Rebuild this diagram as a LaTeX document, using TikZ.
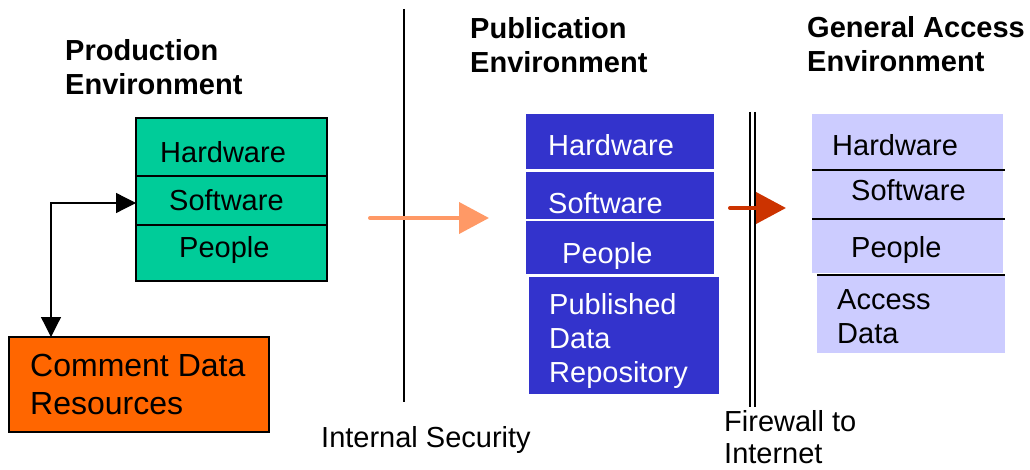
\documentclass[tikz,border=0pt]{standalone}
\usepackage{fontspec}
\setmainfont{Liberation Sans}
\usetikzlibrary{arrows.meta}
\definecolor{prodgreen}{HTML}{00CC99}
\definecolor{cdrorange}{HTML}{FF6600}
\definecolor{pubblue}{HTML}{3333CC}
\definecolor{genlav}{HTML}{CCCCFF}
\definecolor{lightarrow}{HTML}{FF9966}
\definecolor{redarrow}{HTML}{CC3300}
\begin{document}
\begin{tikzpicture}[x=1pt,y=-1pt,
  box/.style={anchor=north west, inner sep=0pt, outer sep=0pt},
  gbox/.style={box, draw=black, line width=1.3pt, fill=prodgreen},
  bbox/.style={box, draw=white, line width=0.6pt, fill=pubblue},
  lbox/.style={box, fill=genlav},
  lbl/.style={anchor=north west, inner sep=0pt, align=left, font=\fontsize{29}{34}\selectfont},
  ttl/.style={lbl, font=\fontsize{29}{34}\selectfont\bfseries},
  wlbl/.style={lbl, text=white},
  bigarrow/.style={line width=4pt, line cap=round, -{Triangle[length=30pt,width=31pt]}}
]
\useasboundingbox (0,0) rectangle (1030,470);

% titles
\node[ttl] (tprod) at (65,39) {Production\\Environment};
\node[ttl] (tpub) at (470,17) {Publication\\Environment};
\node[ttl] (tgen) at (807,16) {General Access\\Environment};

% production environment
\node[gbox, minimum width=191pt, minimum height=58pt] (ghw) at (136,118) {};
\node[gbox, minimum width=191pt, minimum height=49pt] (gsw) at (136,176) {};
\node[gbox, minimum width=191pt, minimum height=56pt] (gpp) at (136,225) {};
\node[lbl] (tghw) at (160,141) {Hardware};
\node[lbl] (tgsw) at (169,189) {Software};
\node[lbl] (tgpp) at (179,236) {People};

\node[box, draw=black, line width=1.3pt, fill=cdrorange, minimum width=260pt, minimum height=95pt] (cdr) at (9,337) {};
\node[lbl, font=\fontsize{32}{38}\selectfont] (tcdr) at (30,354) {Comment Data\\Resources};

\coordinate (bend) at (51,203);
\draw[line width=1.3pt, {Triangle[length=20pt,width=20pt]}-{Triangle[length=20pt,width=20pt]}]
  (bend |- cdr.north) -- (bend) -- (bend -| gsw.west);

% internal security line
\coordinate (isTop) at (404,9);
\coordinate (isBot) at (404,402);
\draw[line width=1.5pt] (isTop) -- (isBot);
\node[lbl] (tis) at (321,426) {Internal Security};

% light arrow
\coordinate (la1) at (370,218);
\coordinate (la2) at (489,218);
\draw[bigarrow, lightarrow] (la1) -- (la2);

% publication environment
\node[bbox, minimum width=189pt, minimum height=56pt] (bhw) at (525,113) {};
\node[bbox, minimum width=189pt, minimum height=48pt] (bsw) at (525,171) {};
\node[bbox, minimum width=189pt, minimum height=54pt] (bpp) at (525,220) {};
\node[box, fill=pubblue, minimum width=190pt, minimum height=117pt] (bpub) at (529,277) {};
\node[wlbl] (tbhw) at (548,134) {Hardware};
\node[wlbl] (tbsw) at (548,192) {Software};
\node[wlbl] (tbpp) at (562,242) {People};
\node[wlbl] (tbpub) at (549,293) {Published\\Data\\Repository};

% firewall
\draw[line width=1.6pt] (750,112) -- (750,407);
\draw[line width=1.6pt] (755,112) -- (755,407);
\node[lbl, font=\fontsize{29}{32}\selectfont] (tfw) at (724,410) {Firewall to\\Internet};

% red arrow
\coordinate (ra1) at (730,208);
\coordinate (ra2) at (786,208);
\draw[bigarrow, redarrow] (ra1) -- (ra2);

% general access environment
\node[lbox, minimum width=191pt, minimum height=56pt] (lhw) at (812,114) {};
\node[lbox, minimum width=191pt, minimum height=49pt] (lsw) at (812,170) {};
\node[lbox, minimum width=191pt, minimum height=54pt] (lpp) at (812,219) {};
\node[lbox, minimum width=188pt, minimum height=78pt] (lacc) at (817,275) {};
\draw[line width=1.4pt] (lsw.north west) -- ++(193,0);
\draw[line width=1.4pt] (lpp.north west) -- ++(193,0);
\draw[line width=1.4pt] (lacc.north west) -- (lacc.north east);
\node[lbl] (tlhw) at (832,134) {Hardware};
\node[lbl] (tlsw) at (851,179) {Software};
\node[lbl] (tlpp) at (851,236) {People};
\node[lbl] (tlacc) at (837,289) {Access\\Data};
\end{tikzpicture}
\end{document}
